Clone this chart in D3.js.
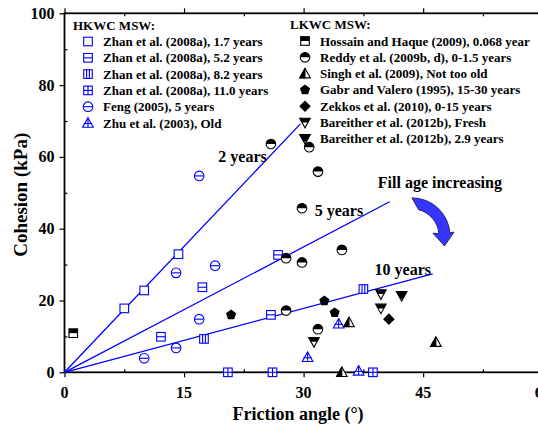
<!DOCTYPE html>
<html>
<head>
<meta charset="utf-8">
<script src="https://cdn.jsdelivr.net/npm/d3@7"></script>
<style>
body { margin: 0; background: #fff; }
text { font-family: "Liberation Serif", "Times New Roman", serif; font-weight: bold; }
</style>
</head>
<body>
<svg id="chart" width="538" height="430"></svg>
<script>
// HKWC MSW (blue)
const zhan17 = [[7.5, 17.8], [10.0, 22.8], [14.3, 32.9]];
const zhan52 = [[12.1, 9.9], [17.3, 23.7], [25.9, 16.0], [26.8, 32.7]];
const zhan82 = [[17.5, 9.3], [37.5, 23.2]];
const zhan110 = [[20.5, 0], [26.1, 0], [38.7, 0]];
const feng = [[10.0, 3.9], [14.0, 6.8], [16.9, 14.8], [14.0, 27.7], [18.9, 29.7], [16.9, 54.7]];
const zhu = [[30.5, 4.2], [34.4, 13.5], [36.9, 0.4]];
// LKWC MSW (black)
const hossain = [[1.1, 10.9]];
const reddy = [[25.9, 63.6], [30.7, 62.7], [31.8, 55.9], [29.8, 45.7], [27.8, 31.8], [34.8, 34.1],
               [29.8, 30.6], [27.8, 17.2], [31.8, 12.0]];
const singh = [[35.7, 13.9], [46.6, 8.4], [34.8, 0]];
const gabr = [[20.9, 16.0], [32.6, 19.9], [33.9, 16.6]];
const zekkos = [[40.7, 14.8]];
const bareitherFresh = [[39.7, 21.8], [39.7, 17.8], [31.3, 8.5]];
const bareither29 = [[42.3, 21.3]];

// fill age trend lines from the origin
const trendLines = [
    {label: "2 years", end: [29.6, 69.2], at: [19.3, 58.5]},
    {label: "5 years", end: [40.8, 47.5], at: [31.4, 43.5]},
    {label: "10 years", end: [46.2, 27.4], at: [38.9, 27.1]}
];
const xTicks = [0, 15, 30, 45, 60];
const yTicks = [0, 20, 40, 60, 80, 100];

const hkwc = [
    {name: "Zhan et al. (2008a), 1.7 years", mark: "square", data: zhan17},
    {name: "Zhan et al. (2008a), 5.2 years", mark: "squareH", data: zhan52},
    {name: "Zhan et al. (2008a), 8.2 years", mark: "squareV", data: zhan82},
    {name: "Zhan et al. (2008a), 11.0 years", mark: "squareX", data: zhan110},
    {name: "Feng (2005), 5 years", mark: "circleH", data: feng},
    {name: "Zhu et al. (2003), Old", mark: "triX", data: zhu}
];
const lkwc = [
    {name: "Hossain and Haque (2009), 0.068 year", mark: "squareHalf", data: hossain},
    {name: "Reddy et al. (2009b, d), 0-1.5 years", mark: "circleHalf", data: reddy},
    {name: "Singh et al. (2009), Not too old", mark: "triHalf", data: singh},
    {name: "Gabr and Valero (1995), 15-30 years", mark: "pentagon", data: gabr},
    {name: "Zekkos et al. (2010), 0-15 years", mark: "diamond", data: zekkos},
    {name: "Bareither et al. (2012b), Fresh", mark: "triDown", data: bareitherFresh},
    {name: "Bareither et al. (2012b), 2.9 years", mark: "triDown2", data: bareither29}
];

const blue = "#0000ff";
const svg = d3.select("#chart");
const mLeft = 64.5, mRight = 542.7, mTop = 13.3, mBottom = 372.3;
const x = d3.scaleLinear().domain([0, 60]).range([mLeft, mRight]);
const y = d3.scaleLinear().domain([0, 100]).range([mBottom, mTop]);

// axes: major ticks outward, minor ticks inward
function axisPair(axisGen, scale, majors, minors, pos, size) {
    const g = svg.append("g").attr("transform", pos);
    g.call(axisGen(scale).tickValues(majors).tickSize(size).tickFormat(""));
    g.append("g").call(axisGen(scale).tickValues(minors).tickSize(-3).tickFormat(""));
    g.selectAll("path").remove();
    g.selectAll("line").attr("stroke", "#000").attr("stroke-width", 1.2);
    return g;
}
const xMinor = [7.5, 22.5, 37.5, 52.5];
const yMinor = [10, 30, 50, 70, 90];
axisPair(d3.axisBottom, x, xTicks, xMinor, `translate(0,${mBottom})`, 5);
axisPair(d3.axisTop, x, xTicks, xMinor, `translate(0,${mTop})`, 5);
axisPair(d3.axisLeft, y, yTicks, yMinor, `translate(${mLeft},0)`, 5);
axisPair(d3.axisRight, y, yTicks, yMinor, `translate(${mRight},0)`, 5);

svg.append("rect")
    .attr("x", mLeft).attr("y", mTop)
    .attr("width", mRight - mLeft).attr("height", mBottom - mTop)
    .attr("fill", "none").attr("stroke", "#000").attr("stroke-width", 1.8);

svg.selectAll(".xlab").data(xTicks).join("text")
    .attr("x", d => x(d)).attr("y", mBottom + 26)
    .attr("text-anchor", "middle").style("font-size", "16px").text(d => d);
svg.selectAll(".ylab").data(yTicks).join("text")
    .attr("x", mLeft - 10).attr("y", d => y(d) + 5.5)
    .attr("text-anchor", "end").style("font-size", "16px").text(d => d);

svg.append("text").attr("x", 298).attr("y", 420)
    .attr("text-anchor", "middle").style("font-size", "18px").text("Friction angle (°)");
svg.append("text").attr("transform", `translate(27,${(mTop + mBottom) / 2 + 2}) rotate(-90)`)
    .attr("text-anchor", "middle").style("font-size", "19px").text("Cohesion (kPa)");

// trend lines
svg.selectAll(".trend").data(trendLines).join("line")
    .attr("x1", x(0)).attr("y1", y(0))
    .attr("x2", d => x(d.end[0])).attr("y2", d => y(d.end[1]))
    .attr("stroke", blue).attr("stroke-width", 1.3);
svg.selectAll(".trendLab").data(trendLines).join("text")
    .attr("x", d => x(d.at[0])).attr("y", d => y(d.at[1]))
    .style("font-size", "16px").text(d => d.label);

// markers
function drawMarker(g, mark, color) {
    const s = 4.3;
    const st = {stroke: color, "stroke-width": 1.1};
    const ap = (el, attrs) => { for (const k in attrs) el.attr(k, attrs[k]); return el; };
    const line = (x1, y1, x2, y2) => ap(g.append("line").attr("x1", x1).attr("y1", y1).attr("x2", x2).attr("y2", y2), st);
    if (mark.startsWith("square")) {
        ap(g.append("rect").attr("x", -s).attr("y", -s).attr("width", 2 * s).attr("height", 2 * s).attr("fill", "#fff"), st);
        if (mark === "squareH" || mark === "squareX") line(-s, 0, s, 0);
        if (mark === "squareX") line(0, -s, 0, s);
        if (mark === "squareV") { line(-1.4, -s, -1.4, s); line(1.4, -s, 1.4, s); }
        if (mark === "squareHalf") g.append("rect").attr("x", -s).attr("y", -s).attr("width", 2 * s).attr("height", s).attr("fill", color);
    } else if (mark.startsWith("circle")) {
        ap(g.append("circle").attr("r", s + 0.5).attr("fill", "#fff"), st);
        if (mark === "circleH") line(-s, 0, s, 0);
        if (mark === "circleHalf") g.append("path").attr("d", d3.arc()({innerRadius: 0, outerRadius: s + 0.5, startAngle: -Math.PI / 2, endAngle: Math.PI / 2})).attr("fill", color);
    } else if (mark === "triX" || mark === "triHalf") {
        const r = s + 1;
        ap(g.append("path").attr("d", `M0,${-r}L${r},${r * 0.8}L${-r},${r * 0.8}Z`).attr("fill", "#fff"), st);
        if (mark === "triX") { line(-r * 0.8, 0.5, r * 0.8, 0.5); line(0, -r, 0, r * 0.8); }
        else g.append("path").attr("d", `M0,${-r}L0,${r * 0.8}L${-r},${r * 0.8}Z`).attr("fill", color).attr("stroke", color);
    } else if (mark.startsWith("triDown")) {
        const r = s + 1;
        ap(g.append("path").attr("d", `M${-r},${-r * 0.8}L${r},${-r * 0.8}L0,${r}Z`).attr("fill", "#fff"), st);
        const f = mark === "triDown" ? 0.45 : 0.75;
        const yy = -r * 0.8 + f * 1.8 * r;
        const w = r * (1 - f);
        g.append("path").attr("d", `M${-r},${-r * 0.8}L${r},${-r * 0.8}L${w},${yy}L${-w},${yy}Z`).attr("fill", color);
    } else if (mark === "pentagon") {
        const pts = d3.range(5).map(i => { const a = -Math.PI / 2 + i * 2 * Math.PI / 5; return [Math.cos(a) * (s + 1), Math.sin(a) * (s + 1)]; });
        g.append("path").attr("d", d3.line()(pts) + "Z").attr("fill", color);
    } else if (mark === "diamond") {
        const r = s + 1.5;
        g.append("path").attr("d", `M0,${-r}L${r},0L0,${r}L${-r},0Z`).attr("fill", color);
    }
}

function drawGroup(groups, color, lx, ly, title) {
    groups.forEach(grp => {
        grp.data.forEach(d => {
            const g = svg.append("g").attr("transform", `translate(${x(d[0])},${y(d[1])})`);
            drawMarker(g, grp.mark, color);
        });
    });
    svg.append("text").attr("x", lx - 15).attr("y", ly - 12).style("font-size", "13px").text(title);
    groups.forEach((grp, i) => {
        const yy = ly + i * 16.3;
        drawMarker(svg.append("g").attr("transform", `translate(${lx},${yy})`), grp.mark, color);
        svg.append("text").attr("x", lx + 15).attr("y", yy + 4.5).style("font-size", "13px").text(grp.name);
    });
}
drawGroup(hkwc, blue, 88, 41.5, "HKWC MSW:");
drawGroup(lkwc, "#000", 305, 41, "LKWC MSW:");

// fill age annotation
svg.append("text").attr("x", x(47.1)).attr("y", y(51.3))
    .attr("text-anchor", "middle").style("font-size", "16px").text("Fill age increasing");
const arrowC = [43.6, 38];
const cx = x(arrowC[0]), cy = y(arrowC[1]);
const ro = 38, ri = 27;
const p = d3.path();
p.moveTo(cx, cy - ro);
p.arc(cx, cy, ro, -Math.PI / 2, -0.08);
p.lineTo(cx + ro + 4, cy - ro * 0.1);
p.lineTo(cx + (ro + ri) / 2, cy + 10);
p.lineTo(cx + ri - 6, cy - ri * 0.1);
p.lineTo(cx + ri * Math.cos(-0.08), cy + ri * Math.sin(-0.08));
p.arc(cx, cy, ri, -0.08, -Math.PI / 2 + 0.25, true);
p.closePath();
svg.append("path").attr("d", p.toString())
    .attr("fill", "#3636ff").attr("stroke", "#20207a").attr("stroke-width", 1);
</script>
</body>
</html>
